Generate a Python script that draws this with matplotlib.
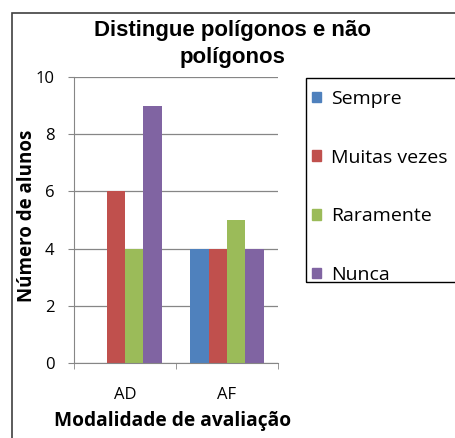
import numpy as np
import matplotlib.pyplot as plt
from matplotlib.patches import Rectangle, Patch

categories = ['AD', 'AF']
series = ['Sempre', 'Muitas vezes', 'Raramente', 'Nunca']
values = [
    [0, 4],   # Sempre
    [6, 4],   # Muitas vezes
    [4, 5],   # Raramente
    [9, 4],   # Nunca
]
colors = ['#4F81BD', '#C0504D', '#9BBB59', '#8064A2']

plt.rcParams['font.family'] = ['Open Sans', 'DejaVu Sans']

fig = plt.figure(figsize=(4.55, 4.38), dpi=100)
ax = fig.add_axes([0.163, 0.171, 0.448, 0.653])

x = np.arange(len(categories))
w = 0.18
for i, (name, vals) in enumerate(zip(series, values)):
    ax.bar(x + (i - 1.5) * w, vals, width=w, color=colors[i], label=name)

ax.set_xlim(-0.5, 1.5)
ax.set_ylim(0, 10)
ax.set_yticks(range(0, 11, 2))
ax.set_xticks(x)
ax.set_xticklabels(categories, fontsize=12)
ax.set_xticks([-0.5, 0.5, 1.5], minor=True)
ax.tick_params(axis='x', which='major', length=0, pad=17.5)
ax.tick_params(axis='x', which='minor', length=4.5, color='#868686', direction='out')
ax.tick_params(axis='y', length=4.5, color='#868686', labelsize=12, pad=9.5)
ax.yaxis.grid(True, color='#868686', linewidth=0.9)
ax.set_axisbelow(True)
for s in ['top', 'right']:
    ax.spines[s].set_visible(False)
for s in ['left', 'bottom']:
    ax.spines[s].set_color('#868686')

ax.set_ylabel('Número de alunos', fontsize=13.5, fontweight='bold', labelpad=0)
ax.set_xlabel('Modalidade de avaliação', fontsize=13.8, fontweight='bold', labelpad=0,
              va='baseline')
ax.yaxis.set_label_coords(-0.18, 0.514)
ax.xaxis.set_label_coords(0.485, -0.22)

fig.text(0.510, 1 - 44 / 438, 'Distingue polígonos e não\npolígonos', ha='center',
         va='center', fontsize=16, fontweight='bold',
         family=['Liberation Sans', 'DejaVu Sans'], linespacing=1.33)

# outer chart border
fig.patches.append(Rectangle((12 / 455, -0.05), 1.0, 0.05 + 1 - 13 / 438,
                             transform=fig.transFigure, fill=False,
                             edgecolor='#404040', linewidth=1.2))

# legend box
fig.patches.append(Rectangle((306 / 455, 1 - 282 / 438), 0.5, (282 - 78) / 438,
                             transform=fig.transFigure, fill=False,
                             edgecolor='black', linewidth=1.0))
handles = [Patch(color=c) for c in colors]
fig.legend(handles, series, loc='upper left', bbox_to_anchor=(312 / 455, 1 - 90 / 438),
           frameon=False, fontsize=14, labelspacing=2.09, handlelength=0.46,
           handleheight=0.46, handletextpad=0.5, borderaxespad=0, borderpad=0)

fig.savefig('out.png', dpi=100)
